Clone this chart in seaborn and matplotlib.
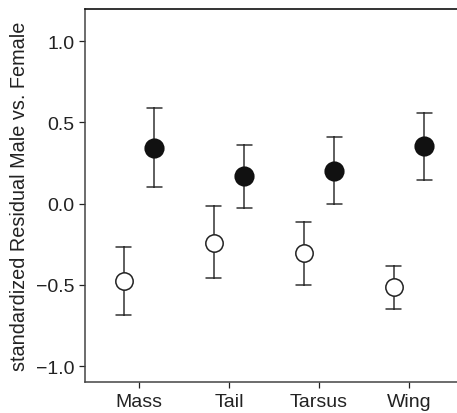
import matplotlib
matplotlib.use("Agg")
import matplotlib.pyplot as plt
import seaborn as sns
import pandas as pd
import numpy as np

# Data
traits = ["Mass", "Tail", "Tarsus", "Wing"]
female_mean = [-0.475, -0.240, -0.305, -0.516]
female_low = [-0.685, -0.457, -0.500, -0.646]
female_high = [-0.266, -0.018, -0.113, -0.385]
male_mean = [0.342, 0.168, 0.203, 0.351]
male_low = [0.101, -0.028, 0.000, 0.146]
male_high = [0.587, 0.361, 0.412, 0.554]
yticks = [-1.0, -0.5, 0.0, 0.5, 1.0]
ylabel = "standardized Residual Male vs. Female"

# Long table: each group holds (low, mean, high); median gives the mean,
# min/max give the error-bar limits.
rows = []
for sex, m, lo, hi in [("Female", female_mean, female_low, female_high),
                       ("Male", male_mean, male_low, male_high)]:
    for t, a, b, c in zip(traits, m, lo, hi):
        for v in (b, a, c):
            rows.append({"trait": t, "sex": sex, "value": v})
df = pd.DataFrame(rows)

sns.set_theme(style="white")
plt.rcParams["font.family"] = ["Liberation Sans", "DejaVu Sans"]

fig = plt.figure(figsize=(4.57, 4.14), dpi=100)
ax = fig.add_axes([85 / 457, 31 / 414, 1 - 85 / 457, (383 - 9.5) / 414])

sns.pointplot(
    data=df, x="trait", y="value", hue="sex", order=traits,
    hue_order=["Female", "Male"], palette=["#111111", "#111111"],
    estimator="median", errorbar=lambda v: (np.min(v), np.max(v)),
    dodge=0.34, linestyle="none", markers="o", markersize=12.5,
    capsize=0.17, err_kws={"color": "#333333", "linewidth": 1.1},
    legend=False, ax=ax,
)

marker_lines = [l for l in ax.lines if l.get_marker() not in (None, "None", "", " ")]
if len(marker_lines) >= 2:
    marker_lines[0].set_markerfacecolor("white")
    marker_lines[0].set_markeredgecolor("#222222")
    marker_lines[0].set_markeredgewidth(1.1)
    marker_lines[1].set_markerfacecolor("#111111")
    marker_lines[1].set_markeredgecolor("#111111")
    marker_lines[0].set_zorder(5)
    marker_lines[1].set_zorder(5)

ax.set_xlim(-0.6, (457 - 139) / 90)
ax.set_ylim(-1.098, 1.2)
ax.set_yticks(yticks)
ax.set_yticklabels(["\u22121.0", "\u22120.5", "0.0", "0.5", "1.0"])
ax.set_xlabel("")
ax.set_ylabel(ylabel, fontsize=14.3, color="#222222", labelpad=5)
ax.tick_params(axis="both", labelsize=14, colors="#222222", length=4, width=0.9,
               direction="out", left=True, bottom=True)
ax.tick_params(axis="x", pad=4)
for s in ["left", "bottom"]:
    ax.spines[s].set_color("#444444")
    ax.spines[s].set_linewidth(1.1)
ax.spines["top"].set_color("#111111")
ax.spines["top"].set_linewidth(1.2)
ax.spines["right"].set_visible(False)

fig.savefig("out.png", dpi=100)
